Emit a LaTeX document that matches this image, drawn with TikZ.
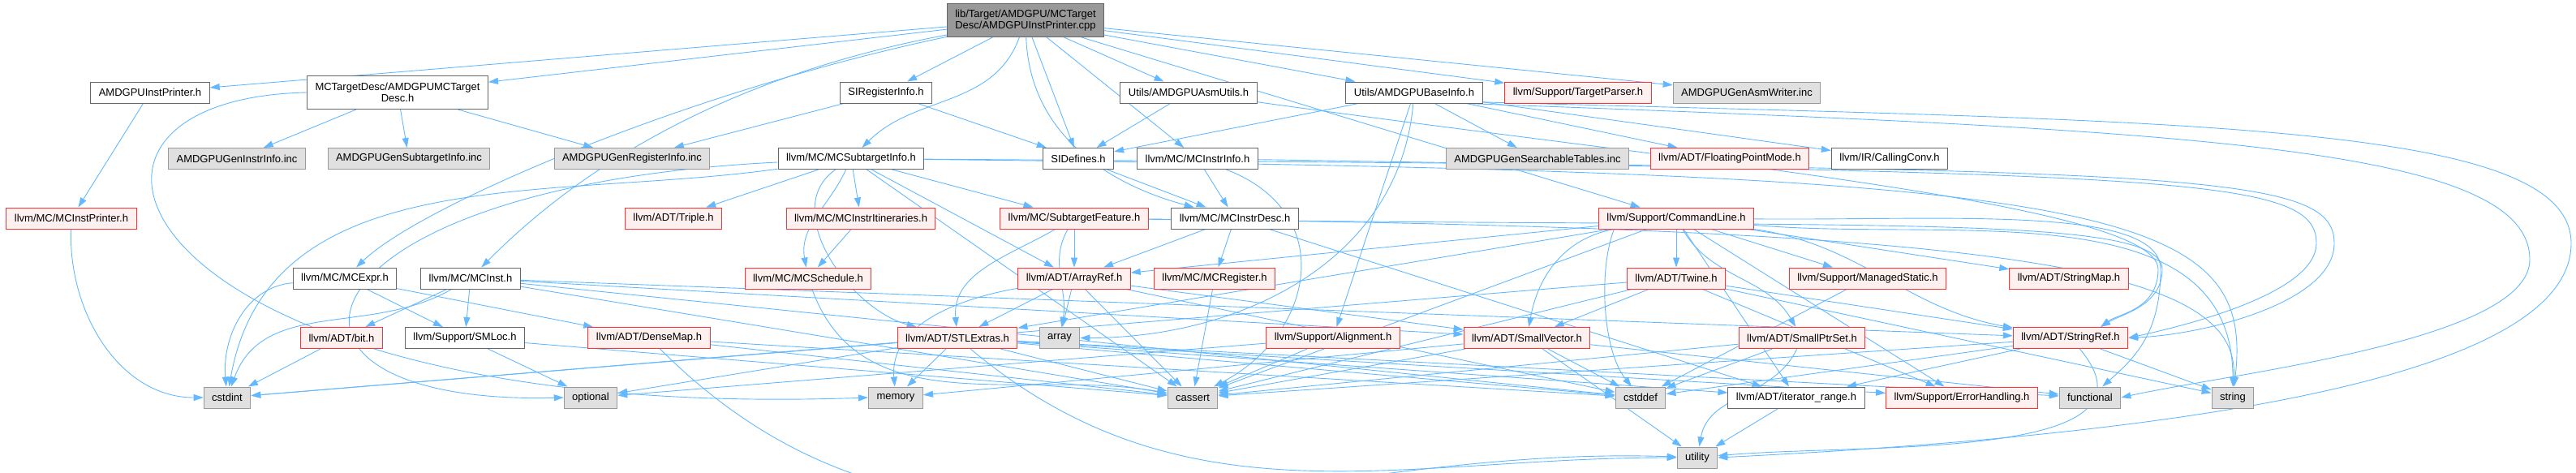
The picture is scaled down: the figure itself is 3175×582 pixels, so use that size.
\documentclass[tikz,border=0pt]{standalone}
\usepackage{fontspec}
\setmainfont{Liberation Sans}
\usetikzlibrary{arrows.meta,backgrounds}
\definecolor{incblue}{HTML}{63B8FF}
\definecolor{truncred}{HTML}{FF3333}
\definecolor{truncfill}{HTML}{FFF0F0}
\definecolor{extfill}{HTML}{E0E0E0}
\definecolor{extline}{HTML}{999999}
\definecolor{hdrline}{HTML}{666666}
\definecolor{rootfill}{HTML}{999999}

\begin{document}
\begin{tikzpicture}[
  x=.4pt,y=.4pt,
  hdrnode/.style={draw=hdrline,fill=white,line width=.4pt,font=\fontsize{5.2}{5.8}\selectfont,minimum height=10.4pt,inner xsep=4pt,inner ysep=1.2pt},
  truncnode/.style={hdrnode,draw=truncred,fill=truncfill},
  extnode/.style={hdrnode,draw=extline,fill=extfill},
  rootnode/.style={hdrnode,fill=rootfill},
  tallnode/.style={align=center,minimum height=16.4pt},
  inc/.style={draw=incblue,line width=.36pt,-{Triangle[length=4.8pt,width=3.2pt]}}
]
\useasboundingbox (0,0) rectangle (3175,582);
\node[rootnode,tallnode] (root) at (1264,557) {lib/Target/AMDGPU/MCTarget\\Desc/AMDGPUInstPrinter.cpp};
\node[hdrnode] (instprn) at (185,468) {AMDGPUInstPrinter.h};
\node[hdrnode,tallnode] (mctd) at (490,468) {MCTargetDesc/AMDGPUMCTarget\\Desc.h};
\node[hdrnode] (sireg) at (1092,468) {SIRegisterInfo.h};
\node[hdrnode] (asmutils) at (1465,468) {Utils/AMDGPUAsmUtils.h};
\node[hdrnode] (baseinfo) at (1743,468) {Utils/AMDGPUBaseInfo.h};
\node[truncnode] (tparser) at (1945,468) {llvm/Support/TargetParser.h};
\node[extnode] (asmwriter) at (2153,468) {AMDGPUGenAsmWriter.inc};
\node[extnode] (geninstr) at (292,386.5) {AMDGPUGenInstrInfo.inc};
\node[extnode] (gensub) at (504,386.5) {AMDGPUGenSubtargetInfo.inc};
\node[extnode] (genreg) at (779,386.5) {AMDGPUGenRegisterInfo.inc};
\node[hdrnode] (mcsti) at (1049,386.5) {llvm/MC/MCSubtargetInfo.h};
\node[hdrnode] (sidef) at (1329,386.5) {SIDefines.h};
\node[hdrnode] (mcii) at (1476,386.5) {llvm/MC/MCInstrInfo.h};
\node[extnode] (gentables) at (1895,386.5) {AMDGPUGenSearchableTables.inc};
\node[truncnode] (fpmode) at (2132,386.5) {llvm/ADT/FloatingPointMode.h};
\node[hdrnode] (callconv) at (2329,386.5) {llvm/IR/CallingConv.h};
\node[truncnode] (mcinstprn) at (88,313) {llvm/MC/MCInstPrinter.h};
\node[truncnode] (triple) at (830,313) {llvm/ADT/Triple.h};
\node[truncnode] (itin) at (1061,313) {llvm/MC/MCInstrItineraries.h};
\node[truncnode] (subfeat) at (1324,313) {llvm/MC/SubtargetFeature.h};
\node[hdrnode] (mcid) at (1522,313) {llvm/MC/MCInstrDesc.h};
\node[truncnode] (cmdline) at (2066,313) {llvm/Support/CommandLine.h};
\node[hdrnode] (mcexpr) at (425,239) {llvm/MC/MCExpr.h};
\node[hdrnode] (mcinst) at (580,239) {llvm/MC/MCInst.h};
\node[truncnode] (sched) at (996,239) {llvm/MC/MCSchedule.h};
\node[truncnode] (arrayref) at (1324,239) {llvm/ADT/ArrayRef.h};
\node[truncnode] (mcreg) at (1497,239) {llvm/MC/MCRegister.h};
\node[truncnode] (twine) at (2066,239) {llvm/ADT/Twine.h};
\node[truncnode] (mstatic) at (2302,239) {llvm/Support/ManagedStatic.h};
\node[truncnode] (strmap) at (2550,239) {llvm/ADT/StringMap.h};
\node[truncnode] (bit) at (421,165.5) {llvm/ADT/bit.h};
\node[hdrnode] (smloc) at (573,165.5) {llvm/Support/SMLoc.h};
\node[truncnode] (densemap) at (800,165.5) {llvm/ADT/DenseMap.h};
\node[truncnode] (stlextras) at (1180,165.5) {llvm/ADT/STLExtras.h};
\node[extnode] (array) at (1306,165.5) {array};
\node[truncnode] (align) at (1643,165.5) {llvm/Support/Alignment.h};
\node[truncnode] (smallvec) at (1882,165.5) {llvm/ADT/SmallVector.h};
\node[truncnode] (smallptr) at (2221,165.5) {llvm/ADT/SmallPtrSet.h};
\node[truncnode] (strref) at (2552,165.5) {llvm/ADT/StringRef.h};
\node[extnode] (cstdint) at (280,92) {cstdint};
\node[extnode] (optional) at (728,92) {optional};
\node[extnode] (memory) at (1104,92) {memory};
\node[extnode] (cassert) at (1470,92) {cassert};
\node[extnode] (cstddef) at (2022,92) {cstddef};
\node[hdrnode] (itrange) at (2214,92) {llvm/ADT/iterator\_range.h};
\node[truncnode] (errh) at (2418,92) {llvm/Support/ErrorHandling.h};
\node[extnode] (functional) at (2576,92) {functional};
\node[extnode] (string) at (2752,92) {string};
\node[extnode] (utility) at (2092,18) {utility};
\begin{scope}[on background layer]
\draw[inc] (root) -- (instprn); \draw[inc] (root) -- (mctd); \draw[inc] (root) -- (sireg);
\draw[inc] (root) to[out=-110,in=45] (mcsti);
\draw[inc] (root) to[out=-88,in=165] (mcid);
\draw[inc] (root) -- (sidef); \draw[inc] (root) -- (mcii); \draw[inc] (root) -- (asmutils);
\draw[inc] (root) -- (baseinfo); \draw[inc] (root) -- (tparser); \draw[inc] (root) -- (asmwriter);
\draw[inc] (root) -- (cmdline);
\draw[inc] (root) .. controls (850,470) and (520,330) .. (mcexpr);
\draw[inc] (root) .. controls (850,480) and (680,340) .. (mcinst);
\draw[inc] (instprn) -- (mcinstprn);
\draw[inc] (mcinstprn) to[out=-92,in=180] (cstdint);
\draw[inc] (mctd) -- (geninstr); \draw[inc] (mctd) -- (gensub); \draw[inc] (mctd) -- (genreg);
\draw[inc] (mctd.west) .. controls (0,460) and (160,60) .. (memory.west);
\draw[inc] (sireg) -- (genreg); \draw[inc] (sireg) -- (sidef);
\draw[inc] (asmutils) -- (sidef);
\draw[inc] (asmutils) .. controls (2100,380) and (2660,330) .. (2660,250) .. controls (2660,200) and (2610,195) .. (strref.20);
\draw[inc] (baseinfo) -- (sidef); \draw[inc] (baseinfo) -- (gentables); \draw[inc] (baseinfo) -- (fpmode);
\draw[inc] (baseinfo) -- (callconv); \draw[inc] (baseinfo) -- (align);
\draw[inc] (baseinfo) to[out=-95,in=0] (array);
\draw[inc] (baseinfo.-12) .. controls (2700,422) and (3118,402) .. (3118,262) .. controls (3118,162) and (2750,122) .. (functional.east);
\draw[inc] (baseinfo.-8) .. controls (2700,432) and (3169,432) .. (3169,282) .. controls (3169,102) and (2600,42) .. (utility.east);
\draw[inc] (mcsti) -- (triple); \draw[inc] (mcsti) -- (itin); \draw[inc] (mcsti) -- (subfeat);
\draw[inc] (mcsti) to[out=-115,in=100] (sched);
\draw[inc] (mcsti) -- (arrayref);
\draw[inc] (mcsti) to[out=-145,in=165] (stlextras);
\draw[inc] (mcsti) .. controls (2700,375) and (2877,372) .. (2877,282) .. controls (2877,210) and (2720,170) .. (strref.east);
\draw[inc] (mcsti) -- (cassert);
\draw[inc] (mcsti) to[out=188,in=80] (cstdint);
\draw[inc] (mcsti) .. controls (350,352) and (280,82) .. (optional.west);
\draw[inc] (mcsti) .. controls (2600,370) and (2780,330) .. (string);
\draw[inc] (mcii) -- (mcid);
\draw[inc] (mcii) .. controls (2700,367) and (2855,362) .. (2855,282) .. controls (2855,222) and (2700,182) .. (strref.east);
\draw[inc] (mcii) .. controls (1650,320) and (1620,170) .. (cassert);
\draw[inc] (sidef) -- (mcid);
\draw[inc] (itin) -- (sched);
\draw[inc] (subfeat) -- (arrayref);
\draw[inc] (subfeat) to[out=-150,in=95] (stlextras);
\draw[inc] (subfeat) to[out=-120,in=80] (array);
\draw[inc] (subfeat) .. controls (2300,300) and (2665,320) .. (2665,250) .. controls (2665,205) and (2615,195) .. (strref.20);
\draw[inc] (subfeat) .. controls (2500,300) and (2760,250) .. (string);
\draw[inc] (mcid) -- (arrayref); \draw[inc] (mcid) -- (mcreg); \draw[inc] (mcid) -- (itrange);
\draw[inc] (sched) to[out=-70,in=170] (cassert);
\draw[inc] (arrayref) -- (stlextras); \draw[inc] (arrayref) -- (array); \draw[inc] (arrayref) -- (cassert);
\draw[inc] (arrayref) to[out=190,in=95] (memory);
\draw[inc] (arrayref) -- (smallvec); \draw[inc] (arrayref) -- (cstddef);
\draw[inc] (mcreg) -- (cassert);
\draw[inc] (cmdline) -- (arrayref); \draw[inc] (cmdline) -- (stlextras);
\draw[inc] (cmdline) to[out=190,in=80] (smallvec);
\draw[inc] (cmdline) -- (twine); \draw[inc] (cmdline) -- (mstatic); \draw[inc] (cmdline) -- (strmap);
\draw[inc] (cmdline) to[out=-8,in=170] (strref);
\draw[inc] (cmdline) to[out=-60,in=120] (smallptr);
\draw[inc] (cmdline.-170) .. controls (1970,250) and (1975,150) .. (cstddef);
\draw[inc] (cmdline) -- (cassert); \draw[inc] (cmdline) -- (itrange); \draw[inc] (cmdline) -- (errh);
\draw[inc] (cmdline) .. controls (2400,310) and (2663,330) .. (2663,250) .. controls (2663,170) and (2630,140) .. (functional);
\draw[inc] (cmdline) to[out=-5,in=90] (string);
\draw[inc] (twine) -- (smallvec); \draw[inc] (twine) -- (strref); \draw[inc] (twine) -- (errh);
\draw[inc] (twine) -- (cassert); \draw[inc] (twine) -- (cstdint);
\draw[inc] (twine) -- (string);
\draw[inc] (mstatic) -- (cstddef);
\draw[inc] (mcexpr) to[out=185,in=95] (cstdint);
\draw[inc] (mcexpr) -- (smloc); \draw[inc] (mcexpr) -- (densemap);
\draw[inc] (mcinst) to[out=-150,in=70] (cstdint);
\draw[inc] (mcinst) -- (bit); \draw[inc] (mcinst) -- (smloc); \draw[inc] (mcinst) -- (smallvec);
\draw[inc] (mcinst) -- (strref); \draw[inc] (mcinst) -- (cassert); \draw[inc] (mcinst) -- (cstddef);
\draw[inc] (bit) -- (cstdint);
\draw[inc] (smloc) -- (optional); \draw[inc] (smloc) -- (cassert);
\draw[inc] (densemap) -- (cassert); \draw[inc] (densemap) -- (cstddef);
\draw[inc] (densemap) to[out=-45,in=178] (utility);
\draw[inc] (stlextras) -- (memory); \draw[inc] (stlextras) -- (cassert); \draw[inc] (stlextras) -- (cstddef);
\draw[inc] (stlextras) -- (cstdint); \draw[inc] (stlextras) -- (optional); \draw[inc] (stlextras) -- (functional);
\draw[inc] (stlextras) -- (itrange); \draw[inc] (stlextras) -- (errh);
\draw[inc] (stlextras) to[out=-40,in=180] (utility);
\draw[inc] (align) -- (cassert); \draw[inc] (align) -- (optional);
\draw[inc] (smallvec) -- (cassert); \draw[inc] (smallvec) -- (cstddef); \draw[inc] (smallvec) -- (functional);
\draw[inc] (smallvec) -- (memory); \draw[inc] (smallvec) -- (utility);
\draw[inc] (smallptr) -- (cassert); \draw[inc] (smallptr) -- (cstddef);
\draw[inc] (smallptr) to[out=-115,in=80] (utility);
\draw[inc] (strref) -- (itrange); \draw[inc] (strref) -- (cassert); \draw[inc] (strref) -- (cstddef);
\draw[inc] (strref) -- (string);
\draw[inc] (strref) to[out=-50,in=5] (utility);
\draw[inc] (itrange) -- (utility);
\end{scope}
\end{tikzpicture}
\end{document}
